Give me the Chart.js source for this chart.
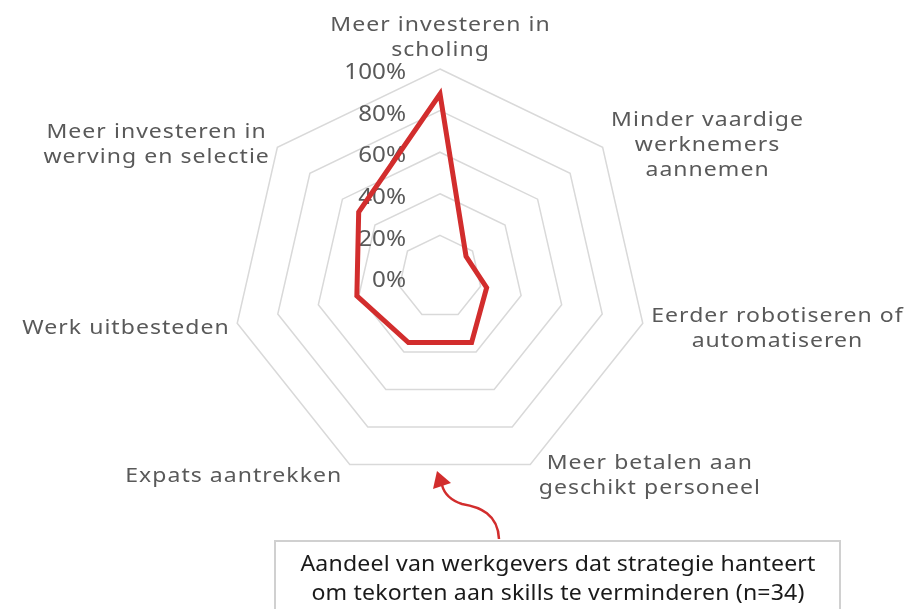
<!DOCTYPE html>
<html>
<head>
<script src="https://cdn.jsdelivr.net/npm/chart.js"></script>
<style>
  body { margin: 0; background: #fff; }
  #wrap { width: 915px; height: 609px; }
</style>
</head>
<body>
<div id="wrap"><canvas id="radar" width="915" height="609"></canvas></div>
<script>
// categories (multi-line labels), values in %
const categories = [
  ['Meer investeren in', 'scholing'],
  ['Minder vaardige', 'werknemers', 'aannemen'],
  ['Eerder robotiseren of', 'automatiseren'],
  ['Meer betalen aan', 'geschikt personeel'],
  ['Expats aantrekken'],
  ['Werk uitbesteden'],
  ['Meer investeren in', 'werving en selectie']
];
const shares = [88, 16, 23, 35, 35, 41, 50];
const tickValues = [0, 20, 40, 60, 80, 100];
const tickLabels = ['0%', '20%', '40%', '60%', '80%', '100%'];
const noteLines = [
  'Aandeel van werkgevers dat strategie hanteert',
  'om tekorten aan skills te verminderen (n=34)'
];

const FONT = '"Noto Sans", sans-serif';
const GREY = '#595959';
const RED = '#d22d2d';

// the original font is a wide geometric one, so stretch Noto Sans a bit
function wideText(ctx, text, x, y, sx) {
  ctx.save();
  ctx.translate(x, y);
  ctx.scale(sx, 1);
  ctx.fillText(text, 0, 0);
  ctx.restore();
}

// labels, ticks and the note box are drawn by hand (Excel-like placement)
const overlay = {
  id: 'overlay',
  beforeDatasetsDraw(chart) {
    const r = chart.scales.r, ctx = chart.ctx;
    ctx.save();
    ctx.fillStyle = GREY;
    ctx.textBaseline = 'middle';

    ctx.font = '22px ' + FONT;
    ctx.textAlign = 'right';
    tickValues.forEach((v, i) => {
      const y = r.yCenter - r.getDistanceFromCenterForValue(v);
      wideText(ctx, tickLabels[i], r.xCenter - 34, y + 4, 1.1);
    });

    const sx = 1.15;
    ctx.font = '20px ' + FONT;
    ctx.letterSpacing = '0.9px';
    ctx.textAlign = 'center';
    const lh = 25;
    categories.forEach((lines, i) => {
      const p = r.getPointPosition(i, r.drawingArea);
      const w = sx * Math.max(...lines.map(t => ctx.measureText(t).width));
      const h = lines.length * lh;
      let cx, top;
      if (i === 0) {
        cx = p.x;
        top = p.y - 10 - h;
      } else {
        cx = Math.cos(p.angle) > 0 ? p.x + 8 + w / 2 : p.x - 8 - w / 2;
        top = p.y + 9 * Math.sin(p.angle) - h / 2;
      }
      lines.forEach((t, k) => wideText(ctx, t, cx + 0.5, top + lh * (k + 0.5) + 3.5, sx));
    });
    ctx.restore();
  },
  afterDraw(chart) {
    const ctx = chart.ctx;
    ctx.save();
    // note box
    ctx.strokeStyle = '#d0d0d0';
    ctx.lineWidth = 2;
    ctx.strokeRect(275, 541, 565, 80);
    ctx.fillStyle = '#1a1a1a';
    ctx.font = '21px ' + FONT;
    ctx.letterSpacing = '0.15px';
    ctx.textAlign = 'center';
    ctx.textBaseline = 'middle';
    wideText(ctx, noteLines[0], 558, 565, 1.1);
    wideText(ctx, noteLines[1], 558, 594, 1.1);

    // curved arrow
    ctx.strokeStyle = RED;
    ctx.fillStyle = RED;
    ctx.lineWidth = 2.5;
    ctx.beginPath();
    ctx.moveTo(499, 539);
    ctx.bezierCurveTo(498, 514, 480, 507, 462, 504);
    ctx.bezierCurveTo(450, 500, 444, 493, 442, 485);
    ctx.stroke();
    ctx.beginPath();
    ctx.moveTo(437, 471);
    ctx.lineTo(433, 489);
    ctx.lineTo(451, 483);
    ctx.closePath();
    ctx.fill();
    ctx.restore();
  }
};

new Chart(document.getElementById('radar'), {
  type: 'radar',
  data: {
    labels: categories,
    datasets: [{
      data: shares,
      borderColor: RED,
      borderWidth: 5,
      fill: false,
      pointRadius: 0,
      tension: 0
    }]
  },
  options: {
    responsive: false,
    animation: false,
    layout: { padding: { left: 232, right: 266, top: 69, bottom: 123 } },
    plugins: { legend: { display: false }, tooltip: { enabled: false } },
    scales: {
      r: {
        min: 0,
        max: 100,
        ticks: { display: false, stepSize: 20 },
        pointLabels: { display: false },
        angleLines: { display: false },
        grid: { color: '#d9d9d9', lineWidth: 1.5 }
      }
    }
  },
  plugins: [overlay]
});
</script>
</body>
</html>
